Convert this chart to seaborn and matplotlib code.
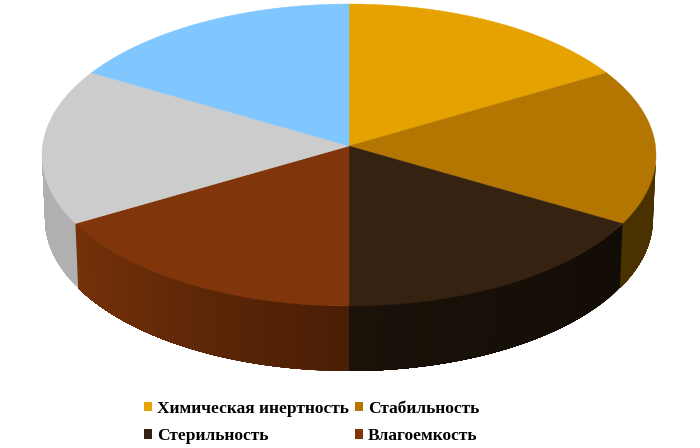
import numpy as np
import matplotlib
matplotlib.use("Agg")
import matplotlib.pyplot as plt
from matplotlib.patches import Rectangle
import seaborn as sns

sns.set_theme(style="white")
plt.rcParams['font.family'] = ['Liberation Serif', 'DejaVu Serif']

categories = ["Химическая инертность", "Стабильность", "Стерильность", "Влагоемкость", "", ""]
shares = [57, 60, 63, 63, 60, 57]
top_colors = ["#E6A200", "#B37600", "#352211", "#81350A", "#CCCCCC", "#80C6FF"]
wall_start = ["#E6A200", "#493100", "#120C06", "#4A1E06", "#B0B0B0", "#80C6FF"]
wall_end = ["#E6A200", "#493100", "#1A1209", "#753209", "#B0B0B0", "#80C6FF"]

fig = plt.figure(figsize=(7.0, 4.48), dpi=100)
ax = fig.add_axes([0, 0, 1, 1])
ax.set_xlim(0, 700)
ax.set_ylim(448, 0)
ax.axis("off")

HUB = (349, 146)
def top_edge(t):
    r = np.radians(t)
    return 349 + 307 * np.sin(r), 155 - 151 * np.cos(r)
def bottom_edge(t):
    r = np.radians(t)
    return 349 + 304 * np.sin(r), 219 - 152 * np.cos(r)

bounds = np.concatenate([[0], np.cumsum(shares)])

# side walls, front half only; each strip runs to the wall's far end and is
# painted over by the next, so no seams show between strips
for i in range(len(shares)):
    a, b = max(bounds[i], 90), min(bounds[i + 1], 270)
    if b <= a:
        continue
    n = max(int(b - a), 1)
    pal = sns.blend_palette([wall_start[i], wall_end[i]], n)
    edges = np.linspace(a, b, n + 1)
    for j in range(n):
        tt = np.linspace(edges[j], b, 60)
        xt, yt = top_edge(tt)
        xb, yb = bottom_edge(tt[::-1])
        ax.fill(np.r_[xt, xb], np.r_[yt, yb], facecolor=pal[j], edgecolor="none", lw=0)

# top faces
for i in range(len(shares)):
    tt = np.linspace(bounds[i], bounds[i + 1], 80)
    x, y = top_edge(tt)
    ax.fill(np.r_[HUB[0], x], np.r_[HUB[1], y], facecolor=top_colors[i], edgecolor=top_colors[i], lw=0.3)

handles = [Rectangle((0, 0), 1, 1, facecolor=c, edgecolor="none") for c in top_colors[:4]]
# legend columns are filled top-down: reorder so rows read as in the reference
order = [0, 2, 1, 3]
fig.legend([handles[k] for k in order], [categories[k] for k in order],
           ncol=2, frameon=False, loc="lower left", bbox_to_anchor=(144 / 700, 4 / 448),
           bbox_transform=fig.transFigure, borderaxespad=0, borderpad=0,
           handlelength=0.46, handleheight=0.46, handletextpad=0.3,
           columnspacing=0.34, labelspacing=0.66,
           prop={"family": ["Liberation Serif", "DejaVu Serif"], "weight": "bold", "size": 12.5},
           labelcolor="#000000")

fig.savefig("out.png", dpi=100, facecolor="white")
